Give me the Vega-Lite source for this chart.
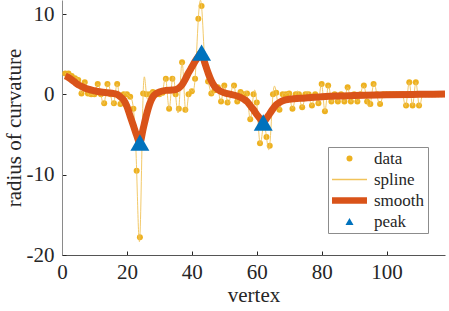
{
  "$schema": "https://vega.github.io/schema/vega-lite/v6.json",
  "width": 383,
  "height": 255,
  "autosize": "none",
  "padding": {"left": 62, "top": 0, "right": 4, "bottom": 56},
  "background": "white",
  "config": {
    "font": "Liberation Serif",
    "view": {"stroke": null},
    "axis": {
      "labelFont": "Liberation Serif", "labelFontSize": 21, "labelColor": "#262626",
      "titleFont": "Liberation Serif", "titleFontSize": 21, "titleColor": "#262626", "titleFontWeight": "normal",
      "tickColor": "#262626", "tickSize": -4, "grid": false, "domainColor": "#8a8a8a", "domainWidth": 1
    },
    "legend": {
      "orient": "none", "legendX": 266, "legendY": 147, "title": null,
      "strokeColor": "#8c8c8c", "fillColor": "white", "padding": 3,
      "labelFont": "Liberation Serif", "labelFontSize": 17, "labelColor": "#262626",
      "symbolSize": 36, "symbolOffset": 10, "labelOffset": 16, "rowPadding": 3,
      "symbolOpacity": 1, "symbolStrokeWidth": 0
    }
  },
  "datasets": {
    "pts": [
      {"v":1,"r":2.6},{"v":2,"r":2.6},{"v":3,"r":2.3},{"v":4,"r":2.0},{"v":5,"r":1.8},{"v":6,"r":0.1},{"v":7,"r":1.5},{"v":8,"r":0.1},{"v":9,"r":0},{"v":10,"r":0},
      {"v":11,"r":1.3},{"v":12,"r":0},{"v":13,"r":-1.1},{"v":14,"r":1.3},{"v":15,"r":0},{"v":16,"r":-1.1},{"v":17,"r":1.3},{"v":18,"r":-1.2},{"v":19,"r":0},{"v":20,"r":0},
      {"v":21,"r":-0.3},{"v":22,"r":-1.8},{"v":23,"r":-9.5},{"v":24,"r":-17.8},{"v":25,"r":0.1},{"v":26,"r":0},{"v":27,"r":0},{"v":28,"r":0.3},{"v":29,"r":0.2},{"v":30,"r":0},
      {"v":31,"r":0.2},{"v":32,"r":1.95},{"v":33,"r":-1.8},{"v":34,"r":1.95},{"v":35,"r":0},{"v":36,"r":-1.8},{"v":37,"r":4.0},{"v":38,"r":-1.9},{"v":39,"r":0},{"v":40,"r":0.4},
      {"v":41,"r":1.95},{"v":42,"r":9.4},{"v":43,"r":11.0},{"v":44,"r":3.9},{"v":45,"r":1.6},{"v":46,"r":0.1},{"v":47,"r":0.5},{"v":48,"r":0.9},{"v":49,"r":-0.9},{"v":50,"r":1.1},
      {"v":51,"r":-1.0},{"v":52,"r":0},{"v":53,"r":1.1},{"v":54,"r":-0.9},{"v":55,"r":0.3},{"v":56,"r":0},{"v":57,"r":0.1},{"v":58,"r":-3.1},{"v":59,"r":0},{"v":60,"r":-1.0},
      {"v":61,"r":-6.1},{"v":62,"r":-4.0},{"v":63,"r":-5.3},{"v":64,"r":-6.4},{"v":65,"r":0},{"v":66,"r":0.2},{"v":67,"r":-1.9},{"v":68,"r":0},{"v":69,"r":0},{"v":70,"r":0.1},
      {"v":71,"r":-1.8},{"v":72,"r":0},{"v":73,"r":0},{"v":74,"r":-1.6},{"v":75,"r":0},{"v":76,"r":0},{"v":77,"r":-1.4},{"v":78,"r":0},{"v":79,"r":-1.1},{"v":80,"r":1.3},
      {"v":81,"r":-2.1},{"v":82,"r":1.1},{"v":83,"r":-0.9},{"v":84,"r":0},{"v":85,"r":-0.9},{"v":86,"r":0},{"v":87,"r":-0.9},{"v":88,"r":0.9},{"v":89,"r":-0.9},{"v":90,"r":0},
      {"v":91,"r":-0.9},{"v":92,"r":0},{"v":93,"r":1.1},{"v":94,"r":-0.9},{"v":95,"r":-1.2},{"v":96,"r":1.3},{"v":97,"r":0},{"v":98,"r":-1.2},{"v":99,"r":0},{"v":100,"r":0},
      {"v":101,"r":0},{"v":102,"r":0},{"v":103,"r":0},{"v":104,"r":0},{"v":105,"r":0},{"v":106,"r":-1.4},{"v":107,"r":1.5},{"v":108,"r":-1.4},{"v":109,"r":1.5},{"v":110,"r":-1.4},
      {"v":111,"r":0},{"v":112,"r":0},{"v":113,"r":0},{"v":114,"r":0},{"v":115,"r":0},{"v":116,"r":0},{"v":117,"r":0},{"v":118,"r":0}
    ],
    "sm": [
      {"v":1,"s":2.3},{"v":2,"s":2.1},{"v":3,"s":1.8},{"v":4,"s":1.5},{"v":5,"s":1.2},{"v":6,"s":1.0},{"v":7,"s":0.8},{"v":8,"s":0.65},{"v":10,"s":0.45},{"v":12,"s":0.3},
      {"v":14,"s":0.2},{"v":16,"s":0.1},{"v":17,"s":0.0},{"v":18,"s":-0.3},{"v":19,"s":-0.7},{"v":20,"s":-1.5},{"v":21,"s":-2.7},{"v":22,"s":-3.9},{"v":23,"s":-5.1},{"v":24,"s":-6.0},
      {"v":25,"s":-4.3},{"v":26,"s":-2.6},{"v":27,"s":-1.2},{"v":28,"s":-0.3},{"v":29,"s":0.1},{"v":30,"s":0.3},{"v":32,"s":0.5},{"v":34,"s":0.55},{"v":35,"s":0.6},{"v":36,"s":0.8},
      {"v":37,"s":1.2},{"v":38,"s":1.9},{"v":39,"s":2.7},{"v":40,"s":3.4},{"v":41,"s":4.1},{"v":42,"s":4.7},{"v":43,"s":5.2},{"v":44,"s":3.9},{"v":45,"s":2.7},{"v":46,"s":1.7},
      {"v":47,"s":1.0},{"v":48,"s":0.6},{"v":50,"s":0.2},{"v":52,"s":0.0},{"v":54,"s":-0.2},{"v":56,"s":-0.6},{"v":57,"s":-0.9},{"v":58,"s":-1.4},{"v":59,"s":-1.9},{"v":60,"s":-2.5},
      {"v":61,"s":-3.0},{"v":62,"s":-3.5},{"v":63,"s":-3.0},{"v":64,"s":-2.4},{"v":65,"s":-1.8},{"v":66,"s":-1.3},{"v":67,"s":-1.0},{"v":68,"s":-0.8},{"v":70,"s":-0.6},{"v":75,"s":-0.45},
      {"v":80,"s":-0.3},{"v":85,"s":-0.2},{"v":90,"s":-0.15},{"v":100,"s":-0.05},{"v":110,"s":0.0},{"v":118,"s":0.05}
    ],
    "pk": [
      {"v":24,"p":-6.0},{"v":43,"p":5.2},{"v":62,"p":-3.5}
    ]
  },
  "encoding": {
    "x": {"field": "v", "type": "quantitative",
      "scale": {"domain": [0, 118], "nice": false, "zero": false},
      "axis": {"title": "vertex", "values": [0,20,40,60,80,100], "labelFlush": false, "labelFont": "Liberation Serif", "labelPadding": 10, "titlePadding": 2, "domainColor": "#555555"}}
  },
  "layer": [
    {
      "data": {"name": "pts"},
      "mark": {"type": "point", "filled": true, "size": 36, "opacity": 1, "clip": true},
      "encoding": {
        "y": {"field": "r", "type": "quantitative",
          "scale": {"domain": [-20, 11.75], "nice": false, "zero": false},
          "axis": {"title": "radius of curvature", "values": [-20,-10,0,10], "labelFont": "Liberation Serif", "labelExpr": "'' + datum.value", "labelPadding": 12, "titlePadding": 2}},
        "color": {"datum": "data", "type": "nominal",
          "scale": {"domain": ["data","spline","smooth","peak"], "range": ["#EDB120","#F1C35A","#D95319","#0072BD"]}}
      }
    },
    {
      "data": {"name": "pts"},
      "mark": {"type": "line", "interpolate": "natural", "strokeWidth": 1, "opacity": 0.9, "clip": true},
      "encoding": {
        "y": {"field": "r", "type": "quantitative"},
        "color": {"datum": "spline", "type": "nominal"}
      }
    },
    {
      "data": {"name": "sm"},
      "mark": {"type": "line", "interpolate": "monotone", "strokeWidth": 7, "clip": true},
      "encoding": {
        "y": {"field": "s", "type": "quantitative"},
        "color": {"datum": "smooth", "type": "nominal"}
      }
    },
    {
      "data": {"name": "pk"},
      "mark": {"type": "point", "filled": true, "size": 203, "opacity": 1, "clip": true},
      "encoding": {
        "y": {"field": "p", "type": "quantitative"},
        "color": {"datum": "peak", "type": "nominal"},
        "shape": {"datum": "peak", "type": "nominal",
          "scale": {"domain": ["data","spline","smooth","peak"], "range": ["circle", "M-5.83,-0.25H5.83V0.25H-5.83Z", "M-5.83,-1.1H5.83V1.1H-5.83Z", "M0,-1.155L1.333,1.155L-1.333,1.155Z"]}}
      }
    }
  ]
}
